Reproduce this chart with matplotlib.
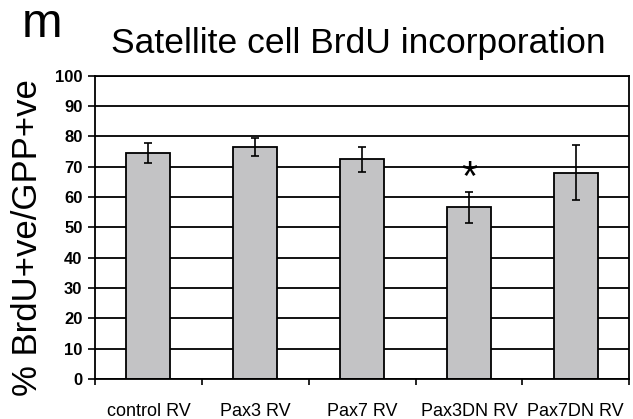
import matplotlib
matplotlib.use("Agg")
from matplotlib import pyplot as plt
import numpy as np

plt.rcParams['font.family'] = ['Liberation Sans', 'DejaVu Sans']

# data
groups = ["control RV", "Pax3 RV", "Pax7 RV", "Pax3DN RV", "Pax7DN RV"]
brdu = [74.4, 76.5, 72.4, 56.6, 68.0]
err = [3.3, 3.0, 4.2, 5.1, 9.0]
signif = [False, False, False, True, False]
yticks = list(range(0, 101, 10))

fig = plt.figure(figsize=(6.33, 4.19), dpi=100)
ax = fig.add_axes([0.150, 0.0955, 0.844, 0.7243])

x = np.arange(len(groups))
ax.set_axisbelow(True)
for t in yticks:
    ax.axhline(t, color='black', lw=1.3, zorder=0)

ax.bar(x, brdu, width=0.41, color='#c3c3c5', edgecolor='black', linewidth=1.3, zorder=2)
ax.errorbar(x, brdu, yerr=err, fmt='none', ecolor='black', elinewidth=1.2,
            capsize=3.2, capthick=1.2, zorder=3)
for xi, v, e, s in zip(x, brdu, err, signif):
    if s:
        ax.text(xi, v + e - 2.5, "*", ha='center', va='bottom', fontsize=30)

ax.set_xlim(-0.5, len(groups) - 0.5)
ax.set_ylim(0, 100)
ax.set_yticks(yticks)
ax.set_yticklabels([str(t) for t in yticks], fontsize=12, fontweight='bold')
ax.tick_params(axis='y', direction='out', length=5, width=1.2, pad=4)

ax.set_xticks(x)
ax.set_xticklabels(groups, fontsize=13)
ax.tick_params(axis='x', which='major', length=0, pad=17)
ax.set_xticks(np.arange(-0.5, len(groups)), minor=True)
ax.tick_params(axis='x', which='minor', direction='out', length=4, width=1.2)

for sp in ax.spines.values():
    sp.set_linewidth(1.3)
    sp.set_color('black')

fig.text(0.566, 0.873, "Satellite cell BrdU incorporation", ha='center',
         va='baseline', fontsize=25.5)
fig.text(0.043, 0.433, "% BrdU+ve/GPP+ve", ha='center', va='center',
         rotation=90, fontsize=25)
fig.text(0.035, 0.912, "m", ha='left', va='baseline', fontsize=35)

fig.savefig("out.png", dpi=100)
